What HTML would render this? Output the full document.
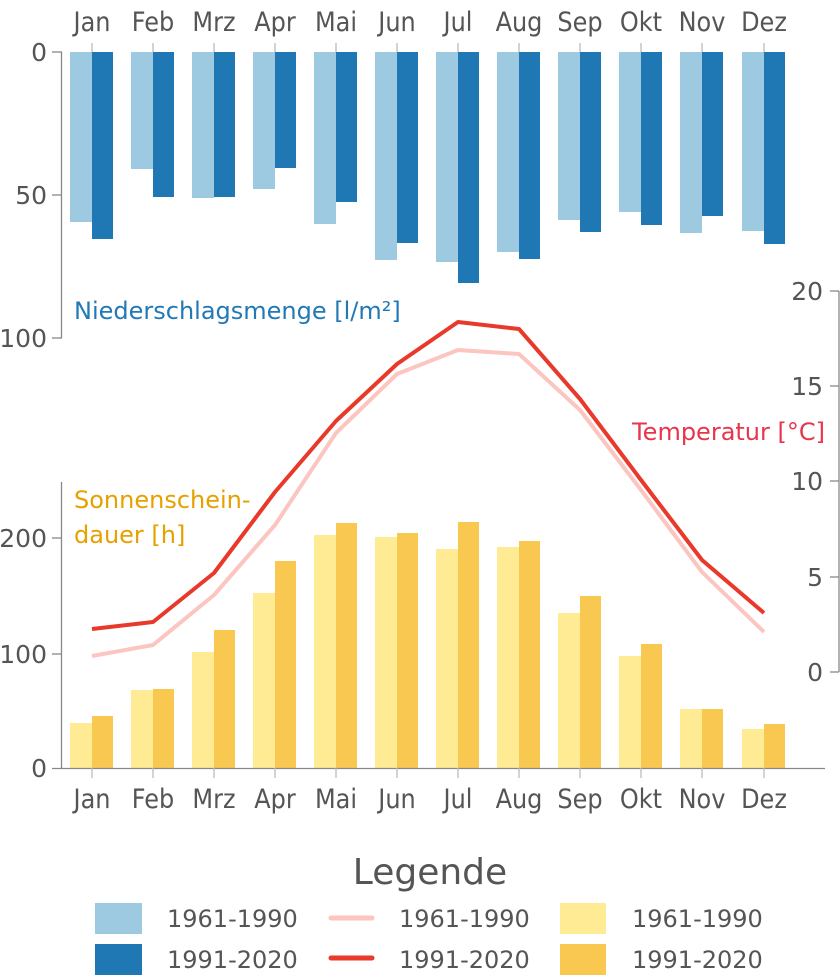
<!DOCTYPE html>
<html><head><meta charset="utf-8"><style>
html,body{margin:0;padding:0;background:#fff;}
svg{display:block;font-family:"DejaVu Sans","Liberation Sans",sans-serif;}
</style></head><body>
<svg width="840" height="975" viewBox="0 0 840 975" xmlns="http://www.w3.org/2000/svg">
<g fill="#555" font-size="24" text-anchor="middle">
<text x="92" y="31" transform="translate(0,31) scale(1,1.1) translate(0,-31)">Jan</text><text x="153" y="31" transform="translate(0,31) scale(1,1.1) translate(0,-31)">Feb</text><text x="214" y="31" transform="translate(0,31) scale(1,1.1) translate(0,-31)">Mrz</text><text x="275" y="31" transform="translate(0,31) scale(1,1.1) translate(0,-31)">Apr</text><text x="336" y="31" transform="translate(0,31) scale(1,1.1) translate(0,-31)">Mai</text><text x="397" y="31" transform="translate(0,31) scale(1,1.1) translate(0,-31)">Jun</text><text x="458" y="31" transform="translate(0,31) scale(1,1.1) translate(0,-31)">Jul</text><text x="519" y="31" transform="translate(0,31) scale(1,1.1) translate(0,-31)">Aug</text><text x="580" y="31" transform="translate(0,31) scale(1,1.1) translate(0,-31)">Sep</text><text x="641" y="31" transform="translate(0,31) scale(1,1.1) translate(0,-31)">Okt</text><text x="702" y="31" transform="translate(0,31) scale(1,1.1) translate(0,-31)">Nov</text><text x="764" y="31" transform="translate(0,31) scale(1,1.1) translate(0,-31)">Dez</text>
</g>
<g fill="#555" font-size="24" text-anchor="middle" transform="translate(0,808) scale(1,1.1) translate(0,-808)">
<text x="92" y="808">Jan</text><text x="153" y="808">Feb</text><text x="214" y="808">Mrz</text><text x="275" y="808">Apr</text><text x="336" y="808">Mai</text><text x="397" y="808">Jun</text><text x="458" y="808">Jul</text><text x="519" y="808">Aug</text><text x="580" y="808">Sep</text><text x="641" y="808">Okt</text><text x="702" y="808">Nov</text><text x="764" y="808">Dez</text>
</g>
<g fill="#555" font-size="25" text-anchor="end">
<text x="47" y="61">0</text><text x="47" y="204">50</text><text x="47" y="347">100</text>
<text x="47" y="547">200</text><text x="47" y="663">100</text><text x="47" y="777">0</text>
<text x="823" y="300">20</text><text x="823" y="395">15</text><text x="823" y="490">10</text><text x="823" y="586">5</text><text x="823" y="681">0</text>
</g>
<g fill="#9ecae1">
<rect x="70" y="52" width="22" height="170"/><rect x="131" y="52" width="22" height="117"/><rect x="192" y="52" width="22" height="146"/><rect x="253" y="52" width="22" height="137"/><rect x="314" y="52" width="22" height="172"/><rect x="375" y="52" width="22" height="208"/><rect x="436" y="52" width="22" height="210"/><rect x="497" y="52" width="22" height="200"/><rect x="558" y="52" width="22" height="168"/><rect x="619" y="52" width="22" height="160"/><rect x="680" y="52" width="22" height="181"/><rect x="742" y="52" width="22" height="179"/>
</g>
<g fill="#1f77b4">
<rect x="92" y="52" width="21" height="187"/><rect x="153" y="52" width="21" height="145"/><rect x="214" y="52" width="21" height="145"/><rect x="275" y="52" width="21" height="116"/><rect x="336" y="52" width="21" height="150"/><rect x="397" y="52" width="21" height="191"/><rect x="458" y="52" width="21" height="231"/><rect x="519" y="52" width="21" height="207"/><rect x="580" y="52" width="21" height="180"/><rect x="641" y="52" width="21" height="173"/><rect x="702" y="52" width="21" height="164"/><rect x="764" y="52" width="21" height="192"/>
</g>
<g fill="#feeb93">
<rect x="70" y="723" width="22" height="45"/><rect x="131" y="690" width="22" height="78"/><rect x="192" y="652" width="22" height="116"/><rect x="253" y="593" width="22" height="175"/><rect x="314" y="535" width="22" height="233"/><rect x="375" y="537" width="22" height="231"/><rect x="436" y="549" width="22" height="219"/><rect x="497" y="547" width="22" height="221"/><rect x="558" y="613" width="22" height="155"/><rect x="619" y="656" width="22" height="112"/><rect x="680" y="709" width="22" height="59"/><rect x="742" y="729" width="22" height="39"/>
</g>
<g fill="#f9c851">
<rect x="92" y="716" width="21" height="52"/><rect x="153" y="689" width="21" height="79"/><rect x="214" y="630" width="21" height="138"/><rect x="275" y="561" width="21" height="207"/><rect x="336" y="523" width="21" height="245"/><rect x="397" y="533" width="21" height="235"/><rect x="458" y="522" width="21" height="246"/><rect x="519" y="541" width="21" height="227"/><rect x="580" y="596" width="21" height="172"/><rect x="641" y="644" width="21" height="124"/><rect x="702" y="709" width="21" height="59"/><rect x="764" y="724" width="21" height="44"/>
</g>
<g stroke="#888" stroke-width="1.3" fill="none">
<line x1="61.5" y1="52" x2="61.5" y2="338"/>
<line x1="52" y1="52" x2="62" y2="52"/><line x1="52" y1="195" x2="62" y2="195"/><line x1="52" y1="338" x2="62" y2="338"/>
<line x1="61.5" y1="482" x2="61.5" y2="768"/>
<line x1="52" y1="538" x2="62" y2="538"/><line x1="52" y1="654" x2="62" y2="654"/>
<line x1="52" y1="768.5" x2="825" y2="768.5"/>
<line x1="839" y1="291" x2="839" y2="672"/>
<line x1="830" y1="291" x2="839" y2="291"/><line x1="830" y1="386" x2="839" y2="386"/><line x1="830" y1="481" x2="839" y2="481"/><line x1="830" y1="577" x2="839" y2="577"/><line x1="830" y1="672" x2="839" y2="672"/>
</g>
<g stroke="#bbb" stroke-width="1.3">
<line x1="92" y1="43" x2="92" y2="52"/><line x1="153" y1="43" x2="153" y2="52"/><line x1="214" y1="43" x2="214" y2="52"/><line x1="275" y1="43" x2="275" y2="52"/><line x1="336" y1="43" x2="336" y2="52"/><line x1="397" y1="43" x2="397" y2="52"/><line x1="458" y1="43" x2="458" y2="52"/><line x1="519" y1="43" x2="519" y2="52"/><line x1="580" y1="43" x2="580" y2="52"/><line x1="641" y1="43" x2="641" y2="52"/><line x1="702" y1="43" x2="702" y2="52"/><line x1="764" y1="43" x2="764" y2="52"/>
<line x1="92" y1="768" x2="92" y2="778"/><line x1="153" y1="768" x2="153" y2="778"/><line x1="214" y1="768" x2="214" y2="778"/><line x1="275" y1="768" x2="275" y2="778"/><line x1="336" y1="768" x2="336" y2="778"/><line x1="397" y1="768" x2="397" y2="778"/><line x1="458" y1="768" x2="458" y2="778"/><line x1="519" y1="768" x2="519" y2="778"/><line x1="580" y1="768" x2="580" y2="778"/><line x1="641" y1="768" x2="641" y2="778"/><line x1="702" y1="768" x2="702" y2="778"/><line x1="764" y1="768" x2="764" y2="778"/>
</g>
<polyline fill="none" stroke="#fcc5c0" stroke-width="4" stroke-linejoin="round" points="92,656 153,645 214,595 275,525 336,433 397,374 458,350 519,354 580,410 641,490 702,572 764,632"/>
<polyline fill="none" stroke="#e8392a" stroke-width="4" stroke-linejoin="round" points="92,629 153,622 214,573 275,492 336,421 397,364 458,322 519,329 580,399 641,480 702,560 764,613"/>
<text x="74" y="319" font-size="24" fill="#2279b5">Niederschlagsmenge [l/m²]</text>
<text x="825" y="440" font-size="24" fill="#e8344d" text-anchor="end">Temperatur [°C]</text>
<text x="74" y="508" font-size="24" fill="#e5a100">Sonnenschein-</text>
<text x="74" y="543" font-size="24" fill="#e5a100">dauer [h]</text>
<text x="430" y="884" font-size="36" fill="#555" text-anchor="middle">Legende</text>
<rect x="95" y="903" width="47" height="31" fill="#9ecae1"/>
<rect x="95" y="944" width="47" height="31" fill="#1f77b4"/>
<line x1="331" y1="918" x2="372" y2="918" stroke="#fcc5c0" stroke-width="5" stroke-linecap="round"/>
<line x1="331" y1="958" x2="372" y2="958" stroke="#e8392a" stroke-width="5" stroke-linecap="round"/>
<rect x="560" y="903" width="46" height="31" fill="#feeb93"/>
<rect x="560" y="944" width="46" height="31" fill="#f9c851"/>
<g font-size="24" fill="#555">
<text x="167" y="927">1961-1990</text><text x="167" y="968">1991-2020</text>
<text x="399" y="927">1961-1990</text><text x="399" y="968">1991-2020</text>
<text x="632" y="927">1961-1990</text><text x="632" y="968">1991-2020</text>
</g>
</svg>
</body></html>
